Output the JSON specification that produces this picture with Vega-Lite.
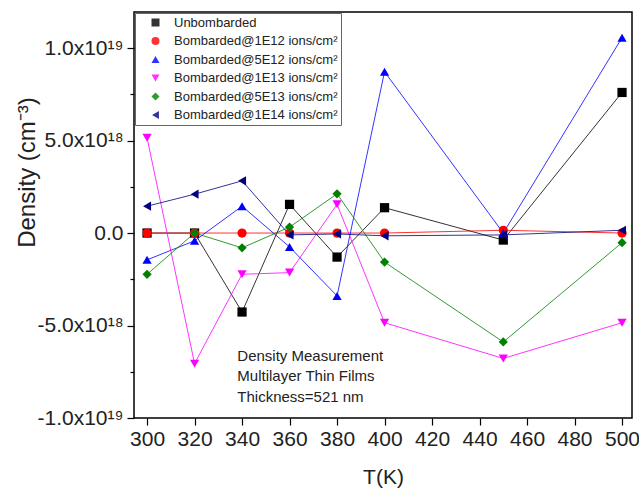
{
  "$schema": "https://vega.github.io/schema/vega-lite/v6.json",
  "width": 498,
  "height": 406,
  "autosize": "none",
  "padding": {"left": 134, "top": 12, "right": 7, "bottom": 75},
  "background": "white",
  "config": {
    "view": {"stroke": "#000000", "strokeWidth": 1.5},
    "font": "Liberation Sans"
  },
  "layer": [
    {
      "data": {"name": "series_data", "values": [
      {"T": 300, "density": 0, "series": "Unbombarded"},
      {"T": 320, "density": 0, "series": "Unbombarded"},
      {"T": 340, "density": -4.27e18, "series": "Unbombarded"},
      {"T": 360, "density": 1.55e18, "series": "Unbombarded"},
      {"T": 380, "density": -1.3e18, "series": "Unbombarded"},
      {"T": 400, "density": 1.37e18, "series": "Unbombarded"},
      {"T": 450, "density": -0.38e18, "series": "Unbombarded"},
      {"T": 500, "density": 7.6e18, "series": "Unbombarded"},

      {"T": 300, "density": 0, "series": "Bombarded@1E12 ions/cm²"},
      {"T": 320, "density": 0, "series": "Bombarded@1E12 ions/cm²"},
      {"T": 340, "density": 0, "series": "Bombarded@1E12 ions/cm²"},
      {"T": 360, "density": 0, "series": "Bombarded@1E12 ions/cm²"},
      {"T": 380, "density": 0, "series": "Bombarded@1E12 ions/cm²"},
      {"T": 400, "density": 0, "series": "Bombarded@1E12 ions/cm²"},
      {"T": 450, "density": 0.15e18, "series": "Bombarded@1E12 ions/cm²"},
      {"T": 500, "density": 0, "series": "Bombarded@1E12 ions/cm²"},

      {"T": 300, "density": -1.45e18, "series": "Bombarded@5E12 ions/cm²"},
      {"T": 320, "density": -0.42e18, "series": "Bombarded@5E12 ions/cm²"},
      {"T": 340, "density": 1.45e18, "series": "Bombarded@5E12 ions/cm²"},
      {"T": 360, "density": -0.75e18, "series": "Bombarded@5E12 ions/cm²"},
      {"T": 380, "density": -3.4e18, "series": "Bombarded@5E12 ions/cm²"},
      {"T": 400, "density": 8.72e18, "series": "Bombarded@5E12 ions/cm²"},
      {"T": 450, "density": 0, "series": "Bombarded@5E12 ions/cm²"},
      {"T": 500, "density": 10.56e18, "series": "Bombarded@5E12 ions/cm²"},

      {"T": 300, "density": 5.15e18, "series": "Bombarded@1E13 ions/cm²"},
      {"T": 320, "density": -7.06e18, "series": "Bombarded@1E13 ions/cm²"},
      {"T": 340, "density": -2.23e18, "series": "Bombarded@1E13 ions/cm²"},
      {"T": 360, "density": -2.14e18, "series": "Bombarded@1E13 ions/cm²"},
      {"T": 380, "density": 1.55e18, "series": "Bombarded@1E13 ions/cm²"},
      {"T": 400, "density": -4.85e18, "series": "Bombarded@1E13 ions/cm²"},
      {"T": 450, "density": -6.78e18, "series": "Bombarded@1E13 ions/cm²"},
      {"T": 500, "density": -4.85e18, "series": "Bombarded@1E13 ions/cm²"},

      {"T": 300, "density": -2.23e18, "series": "Bombarded@5E13 ions/cm²"},
      {"T": 320, "density": 0, "series": "Bombarded@5E13 ions/cm²"},
      {"T": 340, "density": -0.8e18, "series": "Bombarded@5E13 ions/cm²"},
      {"T": 360, "density": 0.32e18, "series": "Bombarded@5E13 ions/cm²"},
      {"T": 380, "density": 2.12e18, "series": "Bombarded@5E13 ions/cm²"},
      {"T": 400, "density": -1.57e18, "series": "Bombarded@5E13 ions/cm²"},
      {"T": 450, "density": -5.89e18, "series": "Bombarded@5E13 ions/cm²"},
      {"T": 500, "density": -0.52e18, "series": "Bombarded@5E13 ions/cm²"},

      {"T": 300, "density": 1.45e18, "series": "Bombarded@1E14 ions/cm²"},
      {"T": 320, "density": 2.1e18, "series": "Bombarded@1E14 ions/cm²"},
      {"T": 340, "density": 2.82e18, "series": "Bombarded@1E14 ions/cm²"},
      {"T": 360, "density": -0.1e18, "series": "Bombarded@1E14 ions/cm²"},
      {"T": 380, "density": -0.05e18, "series": "Bombarded@1E14 ions/cm²"},
      {"T": 400, "density": -0.15e18, "series": "Bombarded@1E14 ions/cm²"},
      {"T": 450, "density": -0.1e18, "series": "Bombarded@1E14 ions/cm²"},
      {"T": 500, "density": 0.15e18, "series": "Bombarded@1E14 ions/cm²"}
      ]},
      "encoding": {
        "x": {
          "field": "T",
          "type": "quantitative",
          "scale": {"domain": [294.5, 504.2], "nice": false, "zero": false},
          "axis": {
            "title": "T(K)",
            "titleFontSize": 21,
            "titleFontWeight": "normal",
            "titleColor": "#222222",
            "titlePadding": 17,
            "values": [300, 310, 320, 330, 340, 350, 360, 370, 380, 390, 400, 410, 420, 430, 440, 450, 460, 470, 480, 490, 500],
            "labelExpr": "datum.value % 20 == 0 ? datum.label : ''",
            "labelFontSize": 21,
            "labelColor": "#222222",
            "labelOverlap": false,
            "labelFlush": false,
            "labelPadding": 3,
            "grid": false,
            "domain": false,
            "tickColor": "#000000",
            "tickWidth": 1.2,
            "tickSize": {"condition": {"test": "datum.value % 20 == 0", "value": 7}, "value": 4}
          }
        },
        "y": {
          "field": "density",
          "type": "quantitative",
          "scale": {"domain": [-1.0e19, 1.195e19], "nice": false, "zero": false},
          "axis": {
            "title": "Density (cm⁻³)",
            "titleFontSize": 24,
            "titleFontWeight": "normal",
            "titleColor": "#222222",
            "titlePadding": -3,
            "titleAlign": "center",
            "titleBaseline": "bottom",
            "titleAngle": 270,
            "titleY": 160,
            "values": [-1e19, -7.5e18, -5e18, -2.5e18, 0, 2.5e18, 5e18, 7.5e18, 1e19],
            "labelExpr": "datum.value == 0 ? '0.0' : datum.value == 1e19 ? '1.0x10¹⁹' : datum.value == 5e18 ? '5.0x10¹⁸' : datum.value == -5e18 ? '-5.0x10¹⁸' : datum.value == -1e19 ? '-1.0x10¹⁹' : ''",
            "labelFontSize": 21,
            "labelColor": "#222222",
            "labelOverlap": false,
            "labelFlush": false,
            "labelPadding": 4,
            "grid": false,
            "domain": false,
            "tickColor": "#000000",
            "tickWidth": 1.2,
            "tickSize": {"condition": {"test": "abs(datum.value) % 5e18 == 0", "value": 7}, "value": 4}
          }
        },
        "color": {
          "field": "series",
          "type": "nominal",
          "scale": {
            "domain": ["Unbombarded", "Bombarded@1E12 ions/cm²", "Bombarded@5E12 ions/cm²", "Bombarded@1E13 ions/cm²", "Bombarded@5E13 ions/cm²", "Bombarded@1E14 ions/cm²"],
            "range": ["#000000", "#FF0000", "#0000FF", "#FF00FF", "#008000", "#000080"]
          },
          "legend": {
            "title": null,
            "orient": "none",
            "legendX": 1,
            "legendY": 1,
            "padding": 3,
            "fillColor": "white",
            "strokeColor": "#666666",
            "labelFontSize": 13,
            "labelColor": "#222222",
            "labelLimit": 300,
            "symbolSize": 64,
            "symbolType": "circle",
            "symbolOffset": 11,
            "labelOffset": 12,
            "rowPadding": 4.5,
            "symbolStrokeWidth": 0,
            "encode": {
              "symbols": {
                "update": {
                  "shape": {"signal": "datum.value === 'Unbombarded' ? 'M-4,-0.12H4V0.12H-4ZM-1,-1H1V1H-1Z' : datum.value === 'Bombarded@1E12 ions/cm²' ? 'M-4,-0.12H4V0.12H-4ZM-1,0A1,1 0 1,0 1,0A1,1 0 1,0 -1,0Z' : datum.value === 'Bombarded@5E12 ions/cm²' ? 'M-4,-0.12H4V0.12H-4ZM0,-1.1L1.15,0.9H-1.15Z' : datum.value === 'Bombarded@1E13 ions/cm²' ? 'M-4,-0.12H4V0.12H-4ZM0,1.1L1.15,-0.9H-1.15Z' : datum.value === 'Bombarded@5E13 ions/cm²' ? 'M-4,-0.12H4V0.12H-4ZM0,-1.2L1.2,0L0,1.2L-1.2,0Z' : 'M-4,-0.12H4V0.12H-4ZM-1.1,0L0.9,-1.15V1.15Z'"},
                  "fill": {"scale": "color", "field": "value"},
                  "opacity": {"value": 1}
                }
              }
            }
          }
        }
      },
      "layer": [
        {
          "mark": {"type": "line", "strokeWidth": 1, "opacity": 0.8}
        },
        {
          "mark": {"type": "point", "filled": true, "opacity": 1, "size": 85},
          "encoding": {
            "shape": {
              "field": "series",
              "type": "nominal",
              "scale": {
                "domain": ["Unbombarded", "Bombarded@1E12 ions/cm²", "Bombarded@5E12 ions/cm²", "Bombarded@1E13 ions/cm²", "Bombarded@5E13 ions/cm²", "Bombarded@1E14 ions/cm²"],
                "range": ["square", "circle", "triangle-up", "triangle-down", "diamond", "triangle-left"]
              },
              "legend": null
            }
          }
        }
      ]
    },
    {
      "data": {"values": [{"note": "annotation"}]},
      "mark": {
        "type": "text",
        "text": ["Density Measurement", "Multilayer Thin Films", "Thickness=521 nm"],
        "align": "left",
        "baseline": "alphabetic",
        "fontSize": 15,
        "lineHeight": 20.5,
        "color": "#222222",
        "font": "Liberation Sans"
      },
      "encoding": {
        "x": {"datum": 338, "type": "quantitative"},
        "y": {"datum": -6.9e18, "type": "quantitative"}
      }
    }
  ]
}
